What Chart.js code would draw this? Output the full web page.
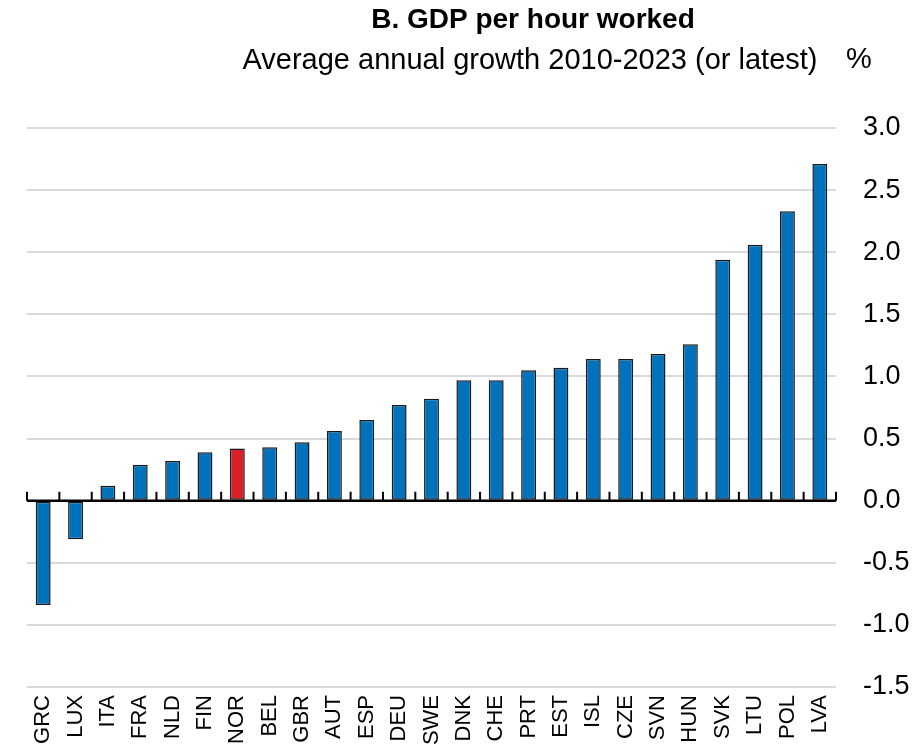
<!DOCTYPE html>
<html>
<head>
<meta charset="utf-8">
<script src="https://cdn.jsdelivr.net/npm/chart.js@4.4.1/dist/chart.umd.min.js"></script>
<style>
    html, body { margin: 0; padding: 0; background: #fff; }
    #wrap { width: 923px; height: 745px; }
</style>
</head>
<body>
<div id="wrap"><canvas id="gdpChart"></canvas></div>
<script>
const countries = ["GRC", "LUX", "ITA", "FRA", "NLD", "FIN", "NOR", "BEL", "GBR", "AUT", "ESP", "DEU", "SWE",
    "DNK", "CHE", "PRT", "EST", "ISL", "CZE", "SVN", "HUN", "SVK", "LTU", "POL", "LVA"];
const growth = [-0.84, -0.31, 0.12, 0.29, 0.32, 0.39, 0.42, 0.43, 0.47, 0.56, 0.65, 0.77, 0.82,
    0.97, 0.97, 1.05, 1.07, 1.14, 1.14, 1.18, 1.26, 1.94, 2.06, 2.33, 2.71];
const highlight = "NOR";
const yTicks = [-1.5, -1.0, -0.5, 0.0, 0.5, 1.0, 1.5, 2.0, 2.5, 3.0];

const BLUE = "#0072bc";
const RED = "#da2128";
const FONT = "'Liberation Sans', Arial, sans-serif";

// titles, zero line and its little boundary ticks
const decorPlugin = {
    id: "decor",
    afterDatasetsDraw(chart) {
        const ctx = chart.ctx;
        const area = chart.chartArea;
        const y0 = chart.scales.y.getPixelForValue(0);
        const step = (area.right - area.left) / countries.length;
        ctx.save();
        ctx.strokeStyle = "#000";
        ctx.lineWidth = 2.5;
        ctx.beginPath();
        ctx.moveTo(area.left, y0);
        ctx.lineTo(area.right, y0);
        ctx.stroke();
        ctx.lineWidth = 2;
        ctx.beginPath();
        for (let i = 0; i <= countries.length; i++) {
            const x = area.left + i * step;
            ctx.moveTo(x, y0);
            ctx.lineTo(x, y0 - 9);
        }
        ctx.stroke();
        ctx.restore();
    },
    afterDraw(chart) {
        const ctx = chart.ctx;
        ctx.save();
        ctx.fillStyle = "#000";
        ctx.textBaseline = "middle";
        ctx.textAlign = "center";
        ctx.font = "bold 28px " + FONT;
        ctx.fillText("B. GDP per hour worked", 533, 20);
        ctx.font = "29px " + FONT;
        ctx.fillText("Average annual growth 2010-2023 (or latest)", 530, 61);
        ctx.fillText("%", 859, 60);
        ctx.restore();
    }
};

const ctx = document.getElementById("gdpChart").getContext("2d");
const gdpChart = new Chart(ctx, {
    type: "bar",
    data: {
        labels: countries,
        datasets: [
            {
                data: growth,
                backgroundColor: countries.map((c) => (c === highlight ? RED : BLUE)),
                borderColor: "#1a1a1a",
                borderWidth: 1.5,
                borderSkipped: false,
                barPercentage: 0.46,
                categoryPercentage: 1.0,
            },
        ],
    },
    options: {
        responsive: true,
        maintainAspectRatio: false,
        animation: false,
        layout: {
            padding: { top: 128, left: 27, right: 0, bottom: 0 },
        },
        plugins: {
            legend: { display: false },
            tooltip: { enabled: false },
        },
        scales: {
            x: {
                grid: { display: false },
                border: { display: false },
                ticks: {
                    color: "#000",
                    font: { family: FONT, size: 22 },
                    minRotation: 90,
                    maxRotation: 90,
                    padding: 0,
                    autoSkip: false,
                },
                afterFit: (axis) => {
                    axis.height = 58;
                },
            },
            y: {
                position: "right",
                min: -1.5,
                max: 3.0,
                afterBuildTicks: (axis) => {
                    axis.ticks = yTicks.map((v) => ({ value: v }));
                },
                afterFit: (axis) => {
                    axis.width = 87;
                },
                grid: {
                    color: (c) => (c.tick && c.tick.value === 0 ? "rgba(0,0,0,0)" : "#d9d9d9"),
                    lineWidth: 2,
                    drawTicks: false,
                },
                border: { display: false },
                ticks: {
                    color: "#000",
                    font: { family: FONT, size: 27 },
                    padding: 27,
                    callback: (v) => Number(v).toFixed(1),
                },
            },
        },
    },
    plugins: [decorPlugin],
});
</script>
</body>
</html>
